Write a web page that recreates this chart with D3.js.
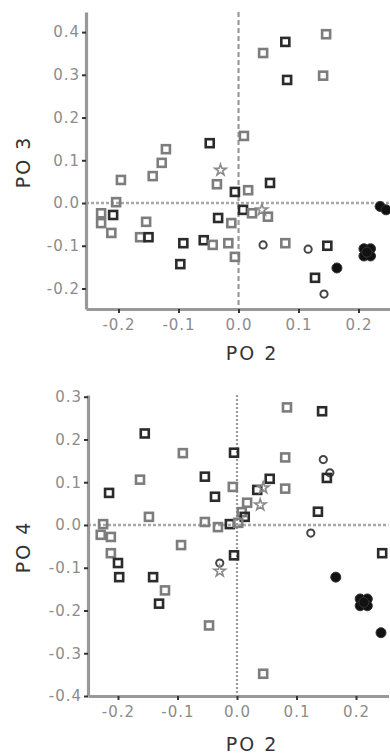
<!DOCTYPE html>
<html><head><meta charset="utf-8">
<script src="https://cdn.jsdelivr.net/npm/d3@7"></script>
<style>body{margin:0;background:#fff} svg{display:block}</style>
</head><body><svg id="c" width="390" height="755"></svg>
<script>
// ---------- DATA ----------
// Top panel: PO 2 vs PO 3
const topPO2 = [0.041,0.078,0.146,0.081,0.141,0.009,-0.048,-0.121,-0.128,-0.143,-0.196,-0.030,-0.036,-0.204,-0.229,-0.209,-0.229,-0.212,-0.154,-0.164,-0.150,-0.092,-0.097,-0.034,-0.012,-0.058,-0.043,-0.017,-0.006,0.0525,-0.006,0.016,0.0075,0.0225,0.039,0.049,0.041,0.078,0.116,0.148,0.1275,0.1425,0.164,0.209,0.220,0.209,0.220,0.214,0.236,0.246];
const topPO3 = [0.351,0.377,0.395,0.288,0.298,0.157,0.140,0.126,0.094,0.063,0.054,0.077,0.044,0.002,-0.024,-0.028,-0.047,-0.070,-0.044,-0.080,-0.080,-0.094,-0.143,-0.035,-0.047,-0.087,-0.098,-0.094,-0.126,0.047,0.026,0.030,-0.016,-0.024,-0.016,-0.032,-0.098,-0.094,-0.108,-0.100,-0.175,-0.213,-0.152,-0.107,-0.107,-0.124,-0.124,-0.115,-0.008,-0.016];
const topGroup = ["B","A","B","A","B","B","A","B","B","B","B","D","B","B","B","A","B","B","B","B","A","A","A","A","B","A","B","B","B","A","A","B","A","B","D","B","C","B","C","A","A","C","E","E","E","E","E","E","E","E"];

// Bottom panel: PO 2 vs PO 4
const botPO2 = [-0.155,-0.091,-0.163,-0.215,-0.148,-0.225,-0.229,-0.212,-0.094,0.084,0.143,-0.005,0.081,0.145,0.156,0.151,-0.054,-0.007,-0.037,0.055,0.034,0.044,0.081,0.017,0.039,0.008,0.013,0.136,-0.054,-0.032,-0.012,0.002,0.124,0.244,-0.005,-0.212,-0.200,-0.198,-0.141,-0.121,-0.131,-0.029,-0.029,-0.047,0.044,0.166,0.207,0.219,0.207,0.219,0.213,0.242];
const botPO4 = [0.214,0.168,0.106,0.075,0.019,0.002,-0.023,-0.028,-0.047,0.275,0.266,0.169,0.158,0.153,0.122,0.110,0.113,0.089,0.066,0.108,0.082,0.087,0.085,0.052,0.047,0.030,0.019,0.031,0.007,-0.005,0.002,0.005,-0.019,-0.066,-0.071,-0.066,-0.089,-0.122,-0.122,-0.153,-0.184,-0.089,-0.108,-0.235,-0.348,-0.122,-0.173,-0.173,-0.189,-0.189,-0.181,-0.252];
const botGroup = ["A","B","B","A","B","B","B","B","B","B","A","A","B","C","C","A","A","B","A","A","A","D","B","B","D","B","A","A","B","B","A","B","C","A","A","B","A","A","A","B","A","C","D","B","B","E","E","E","E","E","E","E"];

// Tick values and labels
const xTicks = [-0.2,-0.1,0.0,0.1,0.2];
const xTickLabels = ["-0.2","-0.1","0.0","0.1","0.2"];
const yTicksTop = [0.4,0.3,0.2,0.1,0.0,-0.1,-0.2];
const yTickLabelsTop = ["0.4","0.3","0.2","0.1","0.0","-0.1","-0.2"];
const yTicksBot = [0.3,0.2,0.1,0.0,-0.1,-0.2,-0.3,-0.4];
const yTickLabelsBot = ["0.3","0.2","0.1","0.0","-0.1","-0.2","-0.3","-0.4"];

// ---------- DRAWING ----------
const svg = d3.select("#c");
const font = "'DejaVu Sans', sans-serif";

function panel(cfg){
  const g = svg.append("g");
  const x = d3.scaleLinear().domain(cfg.xDomain).range(cfg.xRange);
  const y = d3.scaleLinear().domain(cfg.yDomain).range(cfg.yRange);
  const x0 = cfg.xRange[0], yb = cfg.yRange[0];

  // reference lines
  g.append("line").attr("x1", x(0)).attr("x2", x(0)).attr("y1", cfg.yRange[1]).attr("y2", yb)
    .attr("stroke", "#9a9a9a").attr("stroke-width", 2.2).attr("stroke-dasharray", cfg.vDash);
  g.append("line").attr("x1", x0).attr("x2", cfg.xRange[1]).attr("y1", y(0)).attr("y2", y(0))
    .attr("stroke", "#a8a8a8").attr("stroke-width", 2.5).attr("stroke-dasharray", "3,2");

  // points
  const data = cfg.xs.map((v,i)=>({x:v, y:cfg.ys[i], g:cfg.groups[i]}));
  const sqStroke = {A:"#2b2b2b", B:"#7d7d7d"};
  data.forEach(d=>{
    const px = x(d.x), py = y(d.y);
    if (d.g === "A" || d.g === "B") {
      g.append("rect").attr("x", px-4).attr("y", py-4).attr("width", 8).attr("height", 8)
        .attr("fill", "none").attr("stroke", sqStroke[d.g]).attr("stroke-width", 2.6);
    } else if (d.g === "C") {
      g.append("circle").attr("cx", px).attr("cy", py).attr("r", 3.6)
        .attr("fill", "none").attr("stroke", "#444").attr("stroke-width", 2);
    } else if (d.g === "D") {
      g.append("path").attr("d", d3.symbol(d3.symbolStar, 40)()).attr("transform", `translate(${px},${py})`)
        .attr("fill", "none").attr("stroke", "#8a8a8a").attr("stroke-width", 1.6);
    } else {
      g.append("circle").attr("cx", px).attr("cy", py).attr("r", 5)
        .attr("fill", "#111").attr("stroke", "#333").attr("stroke-width", 1);
    }
  });

  // axes
  const ax = g.append("g").attr("transform", `translate(0,${yb})`)
    .call(d3.axisBottom(x).tickValues(xTicks).tickFormat((d,i)=>xTickLabels[i]).tickSize(4).tickSizeOuter(0).tickPadding(6));
  const ay = g.append("g").attr("transform", `translate(${x0},0)`)
    .call(d3.axisLeft(y).tickValues(cfg.yTicks).tickFormat((d,i)=>cfg.yLabels[i]).tickSize(4).tickSizeOuter(0).tickPadding(2));
  [ax, ay].forEach(a=>{
    a.select(".domain").attr("stroke", "#999").attr("stroke-width", 3.2);
    a.selectAll(".tick line").attr("stroke", "#333").attr("stroke-width", 2);
    a.selectAll(".tick text").attr("fill", "#8c8c8c").style("font-family", font)
      .style("font-size", "15px").style("letter-spacing", "1px");
  });

  // axis titles
  g.append("text").attr("x", cfg.xTitleX).attr("y", cfg.xTitleY).attr("text-anchor", "middle")
    .style("font-family", font).style("font-size", "19px").style("letter-spacing", "2px")
    .attr("fill", "#333").text(cfg.xTitle);
  g.append("text").attr("transform", `translate(${cfg.yTitleX},${cfg.yTitleY}) rotate(-90)`)
    .attr("text-anchor", "middle").style("font-family", font).style("font-size", "19px")
    .style("letter-spacing", "2px").attr("fill", "#333").text(cfg.yTitle);
}

panel({
  xs: topPO2, ys: topPO3, groups: topGroup,
  xDomain: [-0.2542, 0.2558], xRange: [86, 392],
  yDomain: [-0.248, 0.447], yRange: [309, 12],
  yTicks: yTicksTop, yLabels: yTickLabelsTop, vDash: "5,3",
  xTitle: "PO 2", xTitleX: 252, xTitleY: 360,
  yTitle: "PO 3", yTitleX: 30, yTitleY: 162
});

panel({
  xs: botPO2, ys: botPO4, groups: botGroup,
  xDomain: [-0.2504, 0.2546], xRange: [88, 388.5],
  yDomain: [-0.4, 0.304], yRange: [696, 395],
  yTicks: yTicksBot, yLabels: yTickLabelsBot, vDash: "2,2",
  xTitle: "PO 2", xTitleX: 252, xTitleY: 751,
  yTitle: "PO 4", yTitleX: 30, yTitleY: 547
});
</script>
</body></html>
